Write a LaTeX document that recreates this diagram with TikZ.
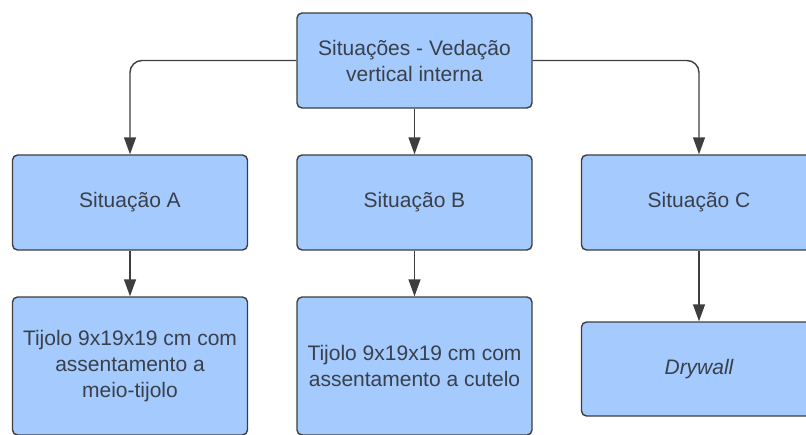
\documentclass[tikz,border=0pt]{standalone}
\usepackage{fontspec}
\setmainfont{Liberation Sans}
\usetikzlibrary{arrows.meta}
\definecolor{boxfill}{RGB}{164,202,254}
\definecolor{boxline}{RGB}{62,62,62}
\definecolor{boxtext}{RGB}{58,64,74}
\tikzset{
	sitbox/.style={rectangle, draw=boxline, fill=boxfill, line width=1.4pt, rounded corners=5pt,
		minimum width=235pt, minimum height=95pt, align=center, text=boxtext,
		font=\fontsize{21pt}{26pt}\selectfont},
	seta/.style={draw=boxline, line width=1.4pt, -{Triangle[width=12pt,length=17pt]}}
}
\begin{document}
\begin{tikzpicture}[x=1pt, y=-1pt]
	
	\useasboundingbox (0, 0) rectangle (806, 434);
	
	\node[sitbox] at (414.5, 60.5) (topo) {Situações - Vedação\\vertical interna};
	
	\node[sitbox] at (130, 202.5) (sa) {Situação A};
	\node[sitbox] at (414.5, 202.5) (sb) {Situação B};
	\node[sitbox] at (699, 202.5) (sc) {Situação C};
	
	\node[sitbox, minimum height=138pt] at (130, 366) (ta) {Tijolo 9x19x19 cm com\\assentamento a\\meio-tijolo};
	\node[sitbox, minimum height=138pt] at (414.5, 366) (tb) {Tijolo 9x19x19 cm com\\assentamento a cutelo};
	\node[sitbox, minimum height=94pt] at (699, 369) (tc) {\itshape Drywall};
	
	\draw[seta, rounded corners=12pt] (topo.west) -| (sa.north);
	\draw[seta] (topo.south) to (sb.north);
	\draw[seta, rounded corners=12pt] (topo.east) -| (sc.north);
	
	\draw[seta] (sa.south) to (ta.north);
	\draw[seta] (sb.south) to (tb.north);
	\draw[seta] (sc.south) to (tc.north);
	
\end{tikzpicture}
\end{document}
